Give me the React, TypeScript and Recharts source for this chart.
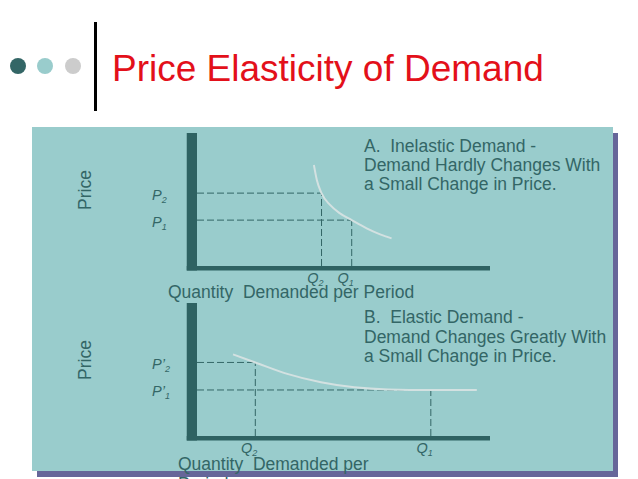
import React from 'react';
import { ComposedChart, Line, XAxis, YAxis, ReferenceLine, ReferenceArea } from 'recharts';

const FONT = '"Liberation Sans", Arial, Helvetica, sans-serif';
const TEAL = '#99cccc';
const SHADOW = '#666699';
const INK = '#336666';
const BAR = '#2e6262';
const CURVE = '#d3e1e1';

// A. inelastic demand (quantity on x, price on y, both 0-100)
const inelasticCurveQ = [39.9, 40.9, 42.5, 45.4, 48.8, 52.8, 57.9, 62.5, 66.4];
const inelasticCurveP = [75.9, 64.7, 54.8, 45.9, 39.6, 34.5, 28.3, 23.8, 20.8];
const inelasticPrices = [54.8, 34.5];
const inelasticQuantities = [42.5, 52.8];
const inelasticPriceLabels = [['P', '2'], ['P', '1']];
const inelasticQtyLabels = [['Q', '2'], ['Q', '1']];
const inelasticCaption = ['A.  Inelastic Demand -', 'Demand Hardly Changes With', 'a Small Change in Price.'];

// B. elastic demand
const elasticCurveQ = [12.3, 19.9, 30.8, 42.3, 53.7, 65.2, 79.8, 95.5];
const elasticCurveP = [61.4, 55.3, 46.7, 40.4, 36.6, 35.0, 34.6, 34.6];
const elasticPrices = [55.3, 34.6];
const elasticQuantities = [19.9, 79.8];
const elasticPriceLabels = [['P\u2019', '2'], ['P\u2019', '1']];
const elasticQtyLabels = [['Q', '2'], ['Q', '1']];
const elasticCaption = ['B.  Elastic Demand -', 'Demand Changes Greatly With', 'a Small Change in Price.'];

const xAxisTitleA = ['Quantity  Demanded per Period'];
const xAxisTitleB = ['Quantity  Demanded per', 'Period'];

const PriceLabel = (props: any) => {
  const vb = props.viewBox || { x: 0, y: 0, width: 0, height: 0 };
  const cx = vb.x + 91;
  const cy = vb.y + 57;
  return (
    <text x={cx} y={cy} transform={`rotate(-90 ${cx} ${cy})`} textAnchor="middle"
      fill={INK} fontFamily={FONT} fontSize={17.5}>Price</text>
  );
};

const QtyTitle = (props: any) => {
  const vb = props.viewBox || { x: 0, y: 0 };
  const lines: string[] = props.lines;
  return (
    <text fill={INK} fontFamily={FONT} fontSize={17.5} style={{ whiteSpace: 'pre' }}>
      {lines.map((l, i) => (
        <tspan key={i} x={vb.x + props.dx} y={vb.y + props.dy + i * 19.5}>{l}</tspan>
      ))}
    </text>
  );
};

interface PanelProps {
  top: number;
  curveQ: number[];
  curveP: number[];
  prices: number[];
  quantities: number[];
  priceLabels: string[][];
  qtyLabels: string[][];
  axisTitle: string[];
  titleDx: number;
  titleDy: number;
}

const DemandPanel = ({ top, curveQ, curveP, prices, quantities, priceLabels, qtyLabels, axisTitle, titleDx, titleDy }: PanelProps) => {
  const data = curveQ.map((q, i) => ({ q, p: curveP[i] }));

  const renderQTick = (props: any) => {
    const i = quantities.indexOf(props.payload.value);
    const lab = qtyLabels[i] || ['', ''];
    return (
      <text x={props.x + 2} y={props.y + 9} textAnchor="end" fill={INK} fontFamily={FONT} fontStyle="italic" fontSize={14.5}>
        <tspan>{lab[0]}</tspan>
        <tspan fontSize={9} dy={3}>{lab[1]}</tspan>
      </text>
    );
  };

  const renderPTick = (props: any) => {
    const i = prices.indexOf(props.payload.value);
    const lab = priceLabels[i] || ['', ''];
    return (
      <text x={props.x - 37} y={props.y + 6.5} textAnchor="start" fill={INK} fontFamily={FONT} fontStyle="italic" fontSize={14.5}>
        <tspan>{lab[0]}</tspan>
        <tspan fontSize={9} dy={3}>{lab[1]}</tspan>
      </text>
    );
  };

  return (
    <div style={{ position: 'absolute', left: 0, top, width: 638, height: 206 }}>
      <ComposedChart width={638} height={206} data={data} margin={{ top: 13, right: 148, bottom: 0, left: 0 }}>
        <XAxis type="number" dataKey="q" domain={[0, 100]} ticks={quantities} interval={0}
          axisLine={false} tickLine={false} height={60} tick={renderQTick} allowDataOverflow
          label={<QtyTitle lines={axisTitle} dx={titleDx} dy={titleDy} />} />
        <YAxis type="number" domain={[0, 100]} ticks={prices} interval={0} width={197}
          axisLine={false} tickLine={false} tick={renderPTick} allowDataOverflow
          label={<PriceLabel />} />
        {prices.map((p, i) => (
          <ReferenceLine key={'h' + i} segment={[{ x: 0, y: p }, { x: quantities[i], y: p }]}
            stroke={INK} strokeWidth={1} strokeDasharray="7 3" ifOverflow="visible" />
        ))}
        {prices.map((p, i) => (
          <ReferenceLine key={'v' + i} segment={[{ x: quantities[i], y: 0 }, { x: quantities[i], y: p }]}
            stroke={INK} strokeWidth={1} strokeDasharray="7 3" ifOverflow="visible" />
        ))}
        <ReferenceArea x1={-3.5} x2={0} y1={-3.4} y2={100} fill={BAR} fillOpacity={1} stroke="none" ifOverflow="visible" />
        <ReferenceArea x1={-3.5} x2={100} y1={-3.4} y2={0} fill={BAR} fillOpacity={1} stroke="none" ifOverflow="visible" />
        <Line type="monotone" dataKey="p" stroke={CURVE} strokeWidth={2} dot={false} activeDot={false} isAnimationActive={false} />
      </ComposedChart>
    </div>
  );
};

const Caption = ({ top, lines }: { top: number; lines: string[] }) => (
  <div style={{ position: 'absolute', left: 364, top, fontFamily: FONT, fontSize: 17.5, lineHeight: '19.4px', color: INK, whiteSpace: 'pre' }}>
    {lines.map((l, i) => <div key={i}>{l}</div>)}
  </div>
);

export default function App() {
  return (
    <div style={{ position: 'absolute', left: 0, top: 0, width: 638, height: 479, overflow: 'hidden', background: '#fff' }}>
      {/* header */}
      <div style={{ position: 'absolute', left: 10, top: 58, width: 16, height: 16, borderRadius: 8, background: '#336666' }} />
      <div style={{ position: 'absolute', left: 37, top: 58, width: 16, height: 16, borderRadius: 8, background: '#99cccc' }} />
      <div style={{ position: 'absolute', left: 65, top: 58, width: 16, height: 16, borderRadius: 8, background: '#cccccc' }} />
      <div style={{ position: 'absolute', left: 94, top: 22, width: 3, height: 89, background: '#000' }} />
      <div style={{ position: 'absolute', left: 112, top: 50, fontFamily: FONT, fontSize: 37, lineHeight: '37px', color: '#e3101a', whiteSpace: 'pre' }}>
        Price Elasticity of Demand
      </div>

      {/* panel */}
      <div style={{ position: 'absolute', left: 37, top: 133, width: 581, height: 344, background: SHADOW }} />
      <div style={{ position: 'absolute', left: 32, top: 127, width: 581, height: 344, background: TEAL }} />

      <Caption top={136.5} lines={inelasticCaption} />
      <Caption top={308.2} lines={elasticCaption} />

      <DemandPanel top={120} curveQ={inelasticCurveQ} curveP={inelasticCurveP} prices={inelasticPrices}
        quantities={inelasticQuantities} priceLabels={inelasticPriceLabels} qtyLabels={inelasticQtyLabels}
        axisTitle={xAxisTitleA} titleDx={-29} titleDy={31.7} />
      <DemandPanel top={290} curveQ={elasticCurveQ} curveP={elasticCurveP} prices={elasticPrices}
        quantities={elasticQuantities} priceLabels={elasticPriceLabels} qtyLabels={elasticQtyLabels}
        axisTitle={xAxisTitleB} titleDx={-19} titleDy={34} />
    </div>
  );
}
